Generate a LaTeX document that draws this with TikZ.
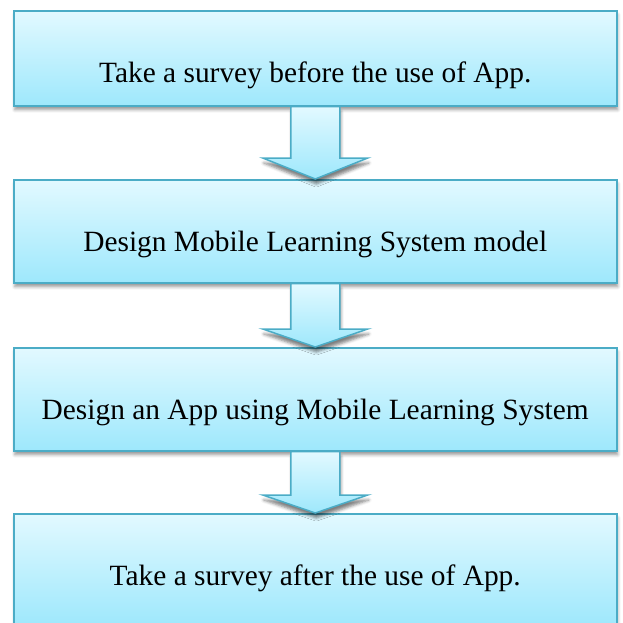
\documentclass[tikz,border=0pt]{standalone}
\usepackage{fontspec}
\setmainfont{Liberation Serif}
\usetikzlibrary{calc,shadows.blur}

\definecolor{boxtop}{RGB}{226,249,255}
\definecolor{boxbottom}{RGB}{158,232,252}
\definecolor{boxline}{RGB}{75,172,198}

\tikzset{
    stage/.style={draw=boxline, line width=1.5pt,
        top color=boxtop, bottom color=boxbottom,
        anchor=north west, minimum width=603pt, inner ysep=0pt,
        text height=72pt, text depth=31pt,
        font=\fontsize{29.4}{34}\selectfont,
        blur shadow={shadow xshift=1pt, shadow yshift=-4pt,
            shadow blur radius=3pt, shadow opacity=40}},
    flow/.style={draw=boxline, line width=1.5pt, line join=miter,
        top color=boxtop, bottom color=boxbottom,
        blur shadow={shadow xshift=1pt, shadow yshift=-5pt,
            shadow blur radius=3pt, shadow opacity=50}}
}

\begin{document}
\begin{tikzpicture}[x=1pt,y=-1pt]
    \useasboundingbox (0,0) rectangle (623,622);

    % Steps
    \node[stage, text depth=23pt] (pre)   at (13, 10) {Take a survey before the use of App.};
    \node[stage]                  (model) at (13,179) {Design Mobile Learning System model};
    \node[stage]                  (app)   at (13,347) {Design an App using Mobile Learning System};
    \node[stage, text depth=40pt] (post)  at (13,513) {Take a survey after the use of App.};

    % Block arrows between steps
    \draw[flow] ($(pre.south)+(-24.5,0)$) -- ($(pre.south)+(24.5,0)$)
        -- ($(model.north)+(24.5,-21)$) -- ($(model.north)+(52.5,-21)$)
        -- (model.north)
        -- ($(model.north)+(-52.5,-21)$) -- ($(model.north)+(-24.5,-21)$) -- cycle;
    \draw[flow] ($(model.south)+(-24.5,0)$) -- ($(model.south)+(24.5,0)$)
        -- ($(app.north)+(24.5,-18)$) -- ($(app.north)+(52.5,-18)$)
        -- (app.north)
        -- ($(app.north)+(-52.5,-18)$) -- ($(app.north)+(-24.5,-18)$) -- cycle;
    \draw[flow] ($(app.south)+(-24.5,0)$) -- ($(app.south)+(24.5,0)$)
        -- ($(post.north)+(24.5,-18)$) -- ($(post.north)+(52.5,-18)$)
        -- (post.north)
        -- ($(post.north)+(-52.5,-18)$) -- ($(post.north)+(-24.5,-18)$) -- cycle;
\end{tikzpicture}
\end{document}
